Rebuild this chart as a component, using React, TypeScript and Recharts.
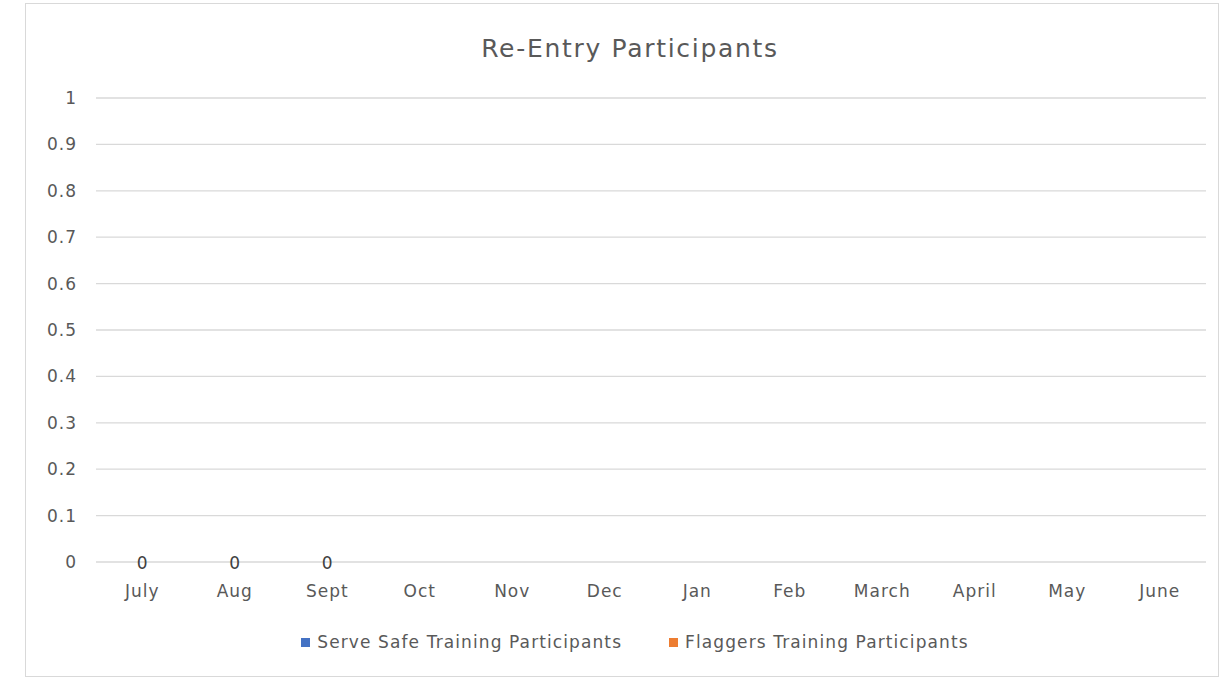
import React from 'react';
import { ComposedChart, Bar, Line, XAxis, YAxis, CartesianGrid, Legend, LabelList } from 'recharts';

const months = ['July', 'Aug', 'Sept', 'Oct', 'Nov', 'Dec', 'Jan', 'Feb', 'March', 'April', 'May', 'June'];
const serveSafe: (number | null)[] = [0, 0, 0, null, null, null, null, null, null, null, null, null];
const flaggers: (number | null)[] = [0, 0, 0, null, null, null, null, null, null, null, null, null];
const yTicks = [0, 0.1, 0.2, 0.3, 0.4, 0.5, 0.6, 0.7, 0.8, 0.9, 1];
const seriesNames = ['Serve Safe Training Participants', 'Flaggers Training Participants'];
const seriesColors = ['#4472C4', '#ED7D31'];
const title = 'Re-Entry Participants';

const data = months.map((m, i) => ({ month: m, serveSafe: serveSafe[i], flaggers: flaggers[i] }));

const FONT = '"DejaVu Sans", sans-serif';
const W = 1194;
const H = 674;

const ZeroLabel = (props: any) => {
  const vb = props.viewBox || {};
  const x = props.x ?? vb.x;
  const y = props.y ?? vb.y;
  const value = props.value;
  if (value === null || value === undefined || x === undefined || y === undefined) return null;
  return (
    <text x={Number(x)} y={Number(y) + 1} textAnchor="middle" dominantBaseline="central"
      fill="#404040" fontSize={17} fontFamily={FONT}>{value}</text>
  );
};

const LegendContent = () => (
  <div style={{ height: 24, display: 'flex', justifyContent: 'center', alignItems: 'center', fontFamily: FONT, fontSize: 17, letterSpacing: '1.1px', color: '#595959', paddingLeft: 38 }}>
    {seriesNames.map((n, i) => (
      <div key={n} style={{ display: 'flex', alignItems: 'center', marginRight: i === 0 ? 47 : 0 }}>
        <div style={{ width: 9, height: 9, background: seriesColors[i], marginRight: 7 }} />
        <span>{n}</span>
      </div>
    ))}
  </div>
);

const tickStyle = { fill: '#595959', fontSize: 17, fontFamily: FONT, letterSpacing: 1 };

export default function App() {
  return (
    <div style={{ position: 'absolute', left: 25, top: 3, width: W, height: H, border: '1px solid #d9d9d9', boxSizing: 'border-box', background: '#fff' }}>
      <div style={{ position: 'absolute', left: 7, width: W, top: 28, textAlign: 'center', fontFamily: FONT, fontSize: 25, letterSpacing: '1.7px', color: '#595959', lineHeight: '34px' }}>{title}</div>
      <ComposedChart width={W - 2} height={H - 2} data={data} margin={{ top: 94, right: 12, bottom: 22, left: 0 }} barGap={0}>
        <CartesianGrid vertical={false} stroke="#d9d9d9" strokeWidth={1.3} />
        <XAxis dataKey="month" axisLine={false} tickLine={false} height={68} tickMargin={17}
          tick={tickStyle} interval={0} />
        <YAxis domain={[0, 1]} ticks={yTicks} axisLine={false} tickLine={false} width={70} tickMargin={13}
          tick={tickStyle} interval={0} />
        <Legend verticalAlign="bottom" height={24} content={<LegendContent />} />
        <Bar dataKey="serveSafe" name={seriesNames[0]} fill={seriesColors[0]} isAnimationActive={false} />
        <Bar dataKey="flaggers" name={seriesNames[1]} fill={seriesColors[1]} isAnimationActive={false} />
        <Line dataKey="serveSafe" stroke="none" dot={false} activeDot={false} legendType="none"
          isAnimationActive={false}>
          <LabelList dataKey="serveSafe" content={<ZeroLabel />} />
        </Line>
      </ComposedChart>
    </div>
  );
}
